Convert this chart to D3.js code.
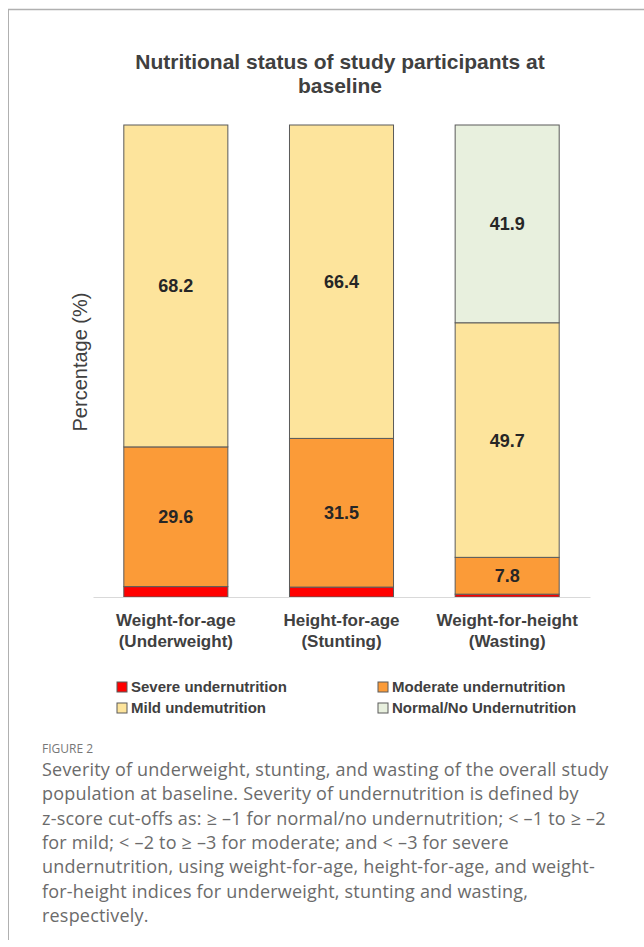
<!DOCTYPE html>
<html lang="en">
<head>
    <title>Nutritional status</title>
    <script src="https://d3js.org/d3.v7.min.js"></script>
    <style>
        body { margin: 0; background: #fff; }
        svg text { font-family: "Liberation Sans", Arial, sans-serif; }
        .title { font-size: 21px; font-weight: bold; fill: #404040; text-anchor: middle; }
        .ylabel { font-size: 20px; fill: #404040; text-anchor: middle; }
        .value { font-size: 18px; font-weight: bold; fill: #262626; text-anchor: middle; }
        .category { font-size: 17px; font-weight: bold; fill: #404040; text-anchor: middle; }
        .legend { font-size: 15px; font-weight: bold; fill: #404040; }
        .caption { font-family: "Open Sans", sans-serif; font-size: 18px; letter-spacing: 0.2px; fill: #6b6b6b; }
        .fig { font-family: "Open Sans", sans-serif; font-size: 12px; fill: #777; }
    </style>
</head>
<body>
<svg id="chart" width="644" height="947"></svg>
<script>
    // categories (two lines each) and stacked series, bottom to top
    const categories = ["Weight-for-age", "Height-for-age", "Weight-for-height"];
    const subLabels = ["(Underweight)", "(Stunting)", "(Wasting)"];
    const legendNames = ["Severe undernutrition", "Moderate undernutrition", "Mild undemutrition", "Normal/No Undernutrition"];
    const severe = [2.2, 2.1, 0.6];
    const moderate = [29.6, 31.5, 7.8];
    const mild = [68.2, 66.4, 49.7];
    const normal = [0, 0, 41.9];
    const colors = ["#ff0000", "#fb9b38", "#fde49c", "#e8f0de"];

    const captionLines = [
        "Severity of underweight, stunting, and wasting of the overall study",
        "population at baseline. Severity of undernutrition is defined by",
        "z-score cut-offs as: \u2265 \u20131 for normal/no undernutrition; < \u20131 to \u2265 \u20132",
        "for mild; < \u20132 to \u2265 \u20133 for moderate; and < \u20133 for severe",
        "undernutrition, using weight-for-age, height-for-age, and weight-",
        "for-height indices for underweight, stunting and wasting,",
        "respectively."
    ];

    const svg = d3.select("#chart");

    // frame lines of the figure panel
    svg.append("line").attr("x1", 8).attr("x2", 644).attr("y1", 9.5).attr("y2", 9.5)
        .attr("stroke", "#b0b0b0").attr("stroke-width", 1.5);
    svg.append("line").attr("x1", 8.5).attr("x2", 8.5).attr("y1", 9).attr("y2", 940)
        .attr("stroke", "#b0b0b0").attr("stroke-width", 1);

    const rows = categories.map((c, i) => ({
        cat: c, severe: severe[i], moderate: moderate[i], mild: mild[i], normal: normal[i]
    }));
    const keys = ["severe", "moderate", "mild", "normal"];
    const stacked = d3.stack().keys(keys)(rows);

    const x = d3.scaleBand().domain(categories).range([93, 590])
        .paddingInner(0.372).paddingOuter(0.186);
    const y = d3.scaleLinear().domain([0, 100]).range([597, 125]);

    // title
    svg.append("text").attr("class", "title").attr("x", 340).attr("y", 69)
        .text("Nutritional status of study participants at");
    svg.append("text").attr("class", "title").attr("x", 340).attr("y", 93)
        .text("baseline");

    // y label
    svg.append("text").attr("class", "ylabel")
        .attr("transform", "translate(87,362) rotate(-90)")
        .text("Percentage (%)");

    // bars
    stacked.forEach((layer, k) => {
        svg.append("g").selectAll("rect")
            .data(layer.filter(d => d[1] - d[0] > 0))
            .enter().append("rect")
            .attr("x", d => x(d.data.cat))
            .attr("width", x.bandwidth())
            .attr("y", d => y(d[1]))
            .attr("height", d => y(d[0]) - y(d[1]))
            .attr("fill", colors[k])
            .attr("stroke", "#5a5a5a")
            .attr("stroke-width", 1);
    });

    // axis baseline
    const axis = svg.append("g").attr("transform", `translate(0,${y(0)})`)
        .call(d3.axisBottom(x).tickSize(0).tickFormat(""));
    axis.select(".domain").attr("stroke", "#d9d9d9");

    // value labels
    stacked.forEach(layer => {
        svg.append("g").selectAll("text")
            .data(layer.filter(d => d[1] - d[0] > 5))
            .enter().append("text").attr("class", "value")
            .attr("x", d => x(d.data.cat) + x.bandwidth() / 2)
            .attr("y", d => (y(d[0]) + y(d[1])) / 2)
            .attr("dy", "0.36em")
            .text(d => d3.format(".1f")(d[1] - d[0]));
    });

    // category labels
    categories.forEach((c, i) => {
        const t = svg.append("text").attr("class", "category")
            .attr("x", x(c) + x.bandwidth() / 2).attr("y", 626);
        t.append("tspan").attr("x", x(c) + x.bandwidth() / 2).text(c);
        t.append("tspan").attr("x", x(c) + x.bandwidth() / 2).attr("dy", 21).text(subLabels[i]);
    });

    // legend
    const legendPos = [[117, 682], [378, 682], [117, 703], [378, 703]];
    legendNames.forEach((n, i) => {
        const g = svg.append("g").attr("transform", `translate(${legendPos[i][0]},${legendPos[i][1]})`);
        g.append("rect").attr("width", 10).attr("height", 10)
            .attr("fill", colors[i]).attr("stroke", "#5a5a5a");
        g.append("text").attr("class", "legend").attr("x", 14).attr("y", 10).text(n);
    });

    // caption
    svg.append("text").attr("class", "fig").attr("x", 42).attr("y", 753).text("FIGURE 2");
    svg.append("g").selectAll("text")
        .data(captionLines)
        .enter().append("text").attr("class", "caption")
        .attr("x", 42)
        .attr("y", (d, i) => 776 + i * 24.3)
        .text(d => d);
</script>
</body>
</html>
